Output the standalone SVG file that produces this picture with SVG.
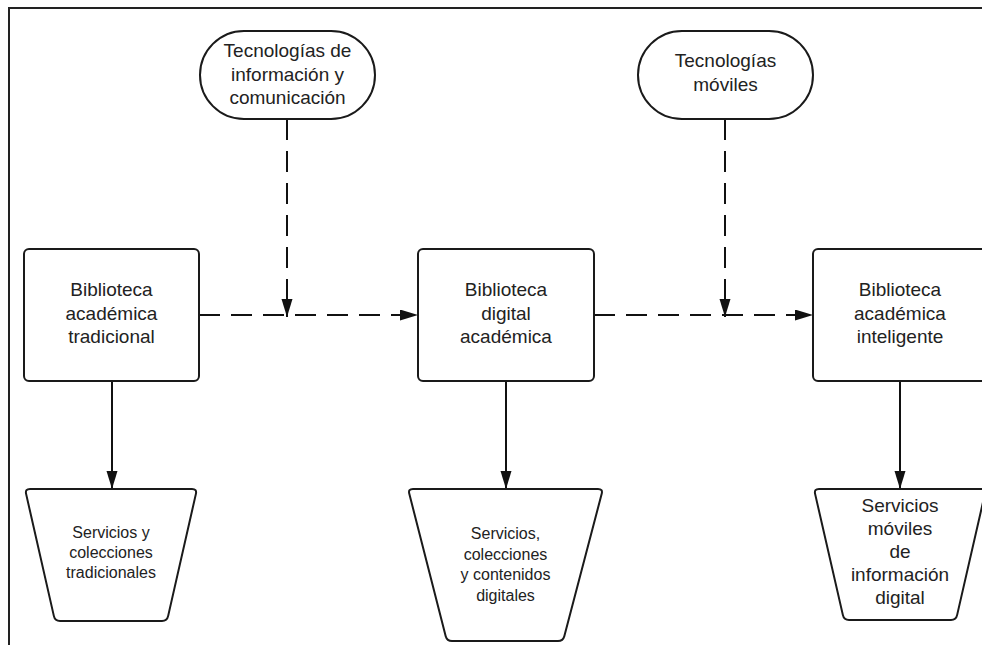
<svg xmlns="http://www.w3.org/2000/svg" width="982" height="645" viewBox="0 0 982 645">
<defs>
<style>
.shape{fill:#fff;stroke:#1a1a1a;stroke-width:2}
.t{font-family:"Liberation Sans",Arial,sans-serif;font-size:19px;fill:#222;text-anchor:middle}
.s{font-family:"Liberation Sans",Arial,sans-serif;font-size:16px;fill:#222;text-anchor:middle}
.c{fill:none;stroke:#111;stroke-width:2}
.d{stroke-dasharray:21 11}
</style>
<marker id="ah" markerUnits="userSpaceOnUse" markerWidth="18" markerHeight="12" refX="18" refY="5.5" orient="auto">
<path d="M0,0 L18,5.5 L0,11 Z" fill="#111"/>
</marker>
</defs>
<rect x="0" y="0" width="982" height="645" fill="#fff"/>
<path d="M9,645 L9,8 L982,8" fill="none" stroke="#222" stroke-width="2"/>
<g id="connectors">
<path class="c d" d="M287 119 L287 317" marker-end="url(#ah)"/>
<path class="c d" d="M725 119 L725 317" marker-end="url(#ah)"/>
<path class="c d" d="M199 315 L418 315" marker-end="url(#ah)"/>
<path class="c d" d="M594 315 L813 315" marker-end="url(#ah)"/>
<path class="c" d="M112 381 L112 489" marker-end="url(#ah)"/>
<path class="c" d="M506 381 L506 489" marker-end="url(#ah)"/>
<path class="c" d="M900 381 L900 489" marker-end="url(#ah)"/>
</g>
<g id="tic">
<rect class="shape" x="200" y="31" width="175" height="88" rx="44" ry="44"/>
<text class="t" x="287.5" y="57">Tecnologías de</text>
<text class="t" x="287.5" y="80.5">información y</text>
<text class="t" x="287.5" y="104">comunicación</text>
</g>
<g id="moviles">
<rect class="shape" x="638" y="31" width="175" height="88" rx="44" ry="44"/>
<text class="t" x="725.5" y="67">Tecnologías</text>
<text class="t" x="725.5" y="90.5">móviles</text>
</g>
<g id="bib-tradicional">
<rect class="shape" x="24" y="249" width="175" height="132" rx="5" ry="5"/>
<text class="t" x="111.5" y="296">Biblioteca</text>
<text class="t" x="111.5" y="319.5">académica</text>
<text class="t" x="111.5" y="343">tradicional</text>
</g>
<g id="bib-digital">
<rect class="shape" x="418" y="249" width="176" height="132" rx="5" ry="5"/>
<text class="t" x="506" y="296">Biblioteca</text>
<text class="t" x="506" y="319.5">digital</text>
<text class="t" x="506" y="343">académica</text>
</g>
<g id="bib-inteligente">
<rect class="shape" x="813" y="249" width="175" height="132" rx="5" ry="5"/>
<text class="t" x="900" y="296">Biblioteca</text>
<text class="t" x="900" y="319.5">académica</text>
<text class="t" x="900" y="343">inteligente</text>
</g>
<g id="serv-tradicionales">
<path class="shape" d="M30,489 L192,489 Q197,489 195.9,493.9 L168.1,616.1 Q167,621 162,621 L60,621 Q55,621 53.9,616.1 L26.1,493.9 Q25,489 30,489 Z"/>
<text class="s" x="111" y="538">Servicios y</text>
<text class="s" x="111" y="558">colecciones</text>
<text class="s" x="111" y="578">tradicionales</text>
</g>
<g id="serv-digitales">
<path class="shape" d="M413,489 L598,489 Q603,489 601.7,493.8 L564.3,636.2 Q563,641 558,641 L452,641 Q447,641 445.7,636.2 L409.3,493.8 Q408,489 413,489 Z"/>
<text class="s" x="505.5" y="539">Servicios,</text>
<text class="s" x="505.5" y="559.5">colecciones</text>
<text class="s" x="505.5" y="580">y contenidos</text>
<text class="s" x="505.5" y="600.5">digitales</text>
</g>
<g id="serv-moviles">
<path class="shape" d="M819,489 L981,489 Q986,489 984.9,493.9 L957.1,615.1 Q956,620 951,620 L849,620 Q844,620 842.9,615.1 L815.1,493.9 Q814,489 819,489 Z"/>
<text class="t" x="900" y="512">Servicios</text>
<text class="t" x="900" y="535">móviles</text>
<text class="t" x="900" y="558">de</text>
<text class="t" x="900" y="581">información</text>
<text class="t" x="900" y="604">digital</text>
</g>
</svg>
